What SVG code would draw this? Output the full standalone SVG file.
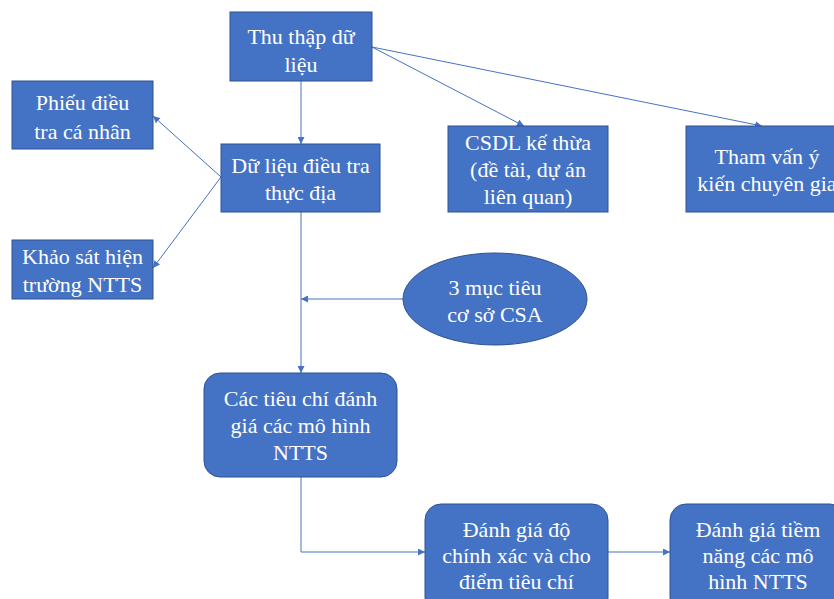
<svg xmlns="http://www.w3.org/2000/svg" width="834" height="599" viewBox="0 0 834 599">
<defs>
<marker id="ah" viewBox="0 0 10 10" refX="10" refY="5" markerWidth="7" markerHeight="7" orient="auto" markerUnits="userSpaceOnUse">
<path d="M0,0 L10,5 L0,10 z" fill="#4472C4"/>
</marker>
<style>
.n{fill:#4472C4;stroke:#2F528F;stroke-width:1}
.t{font-family:"Liberation Serif",Tinos,"Times New Roman",Times,"Nimbus Roman","Nimbus Roman No9 L","Noto Serif","DejaVu Serif",FreeSerif,Georgia,serif;font-size:22px;fill:#ffffff;text-anchor:middle}
.c{fill:none;stroke:#4472C4;stroke-width:1;marker-end:url(#ah)}
</style>
</defs>
<rect width="834" height="599" fill="#ffffff"/>
<g id="connectors">
<line class="c" x1="301" y1="81" x2="301" y2="144"/>
<line class="c" x1="372" y1="47" x2="524" y2="126"/>
<line class="c" x1="372" y1="47" x2="762" y2="126"/>
<line class="c" x1="221" y1="177" x2="153" y2="116"/>
<line class="c" x1="221" y1="177" x2="153" y2="268"/>
<line class="c" x1="301" y1="212" x2="301" y2="373"/>
<line class="c" x1="403" y1="299" x2="301" y2="299"/>
<polyline class="c" points="301,477 301,552 425,552"/>
<line class="c" x1="608" y1="552" x2="670" y2="552"/>
</g>
<g id="thu-thap">
<rect class="n" x="230" y="12" width="142" height="69"/>
<text class="t" x="301" y="44">Thu thập dữ</text>
<text class="t" x="301" y="72">liệu</text>
</g>
<g id="phieu">
<rect class="n" x="12" y="81" width="141" height="68"/>
<text class="t" x="82.5" y="110">Phiếu điều</text>
<text class="t" x="82.5" y="139">tra cá nhân</text>
</g>
<g id="du-lieu">
<rect class="n" x="221" y="144" width="159" height="68"/>
<text class="t" x="300.5" y="173">Dữ liệu điều tra</text>
<text class="t" x="300.5" y="200">thực địa</text>
</g>
<g id="khao-sat">
<rect class="n" x="12" y="240" width="141" height="59"/>
<text class="t" x="82.5" y="264">Khảo sát hiện</text>
<text class="t" x="82.5" y="292">trường NTTS</text>
</g>
<g id="csdl">
<rect class="n" x="448" y="126" width="160" height="86"/>
<text class="t" x="528" y="150">CSDL kế thừa</text>
<text class="t" x="528" y="177">(đề tài, dự án</text>
<text class="t" x="528" y="204">liên quan)</text>
</g>
<g id="tham-van">
<rect class="n" x="686" y="126" width="162" height="86"/>
<text class="t" x="767" y="164">Tham vấn ý</text>
<text class="t" x="767" y="191">kiến chuyên gia</text>
</g>
<g id="muc-tieu">
<ellipse class="n" cx="495" cy="299" rx="92" ry="46"/>
<text class="t" x="495" y="295">3 mục tiêu</text>
<text class="t" x="495" y="322">cơ sở CSA</text>
</g>
<g id="tieu-chi">
<rect class="n" x="204" y="373" width="193" height="104" rx="16"/>
<text class="t" x="300.5" y="406">Các tiêu chí đánh</text>
<text class="t" x="300.5" y="433">giá các mô hình</text>
<text class="t" x="300.5" y="460">NTTS</text>
</g>
<g id="danh-gia-do">
<rect class="n" x="425" y="504" width="183" height="110" rx="16"/>
<text class="t" x="516.5" y="537">Đánh giá độ</text>
<text class="t" x="516.5" y="563">chính xác và cho</text>
<text class="t" x="516.5" y="589">điểm tiêu chí</text>
</g>
<g id="danh-gia-tiem">
<rect class="n" x="670" y="504" width="176" height="110" rx="16"/>
<text class="t" x="758" y="537">Đánh giá tiềm</text>
<text class="t" x="758" y="563">năng các mô</text>
<text class="t" x="758" y="589">hình NTTS</text>
</g>
</svg>
